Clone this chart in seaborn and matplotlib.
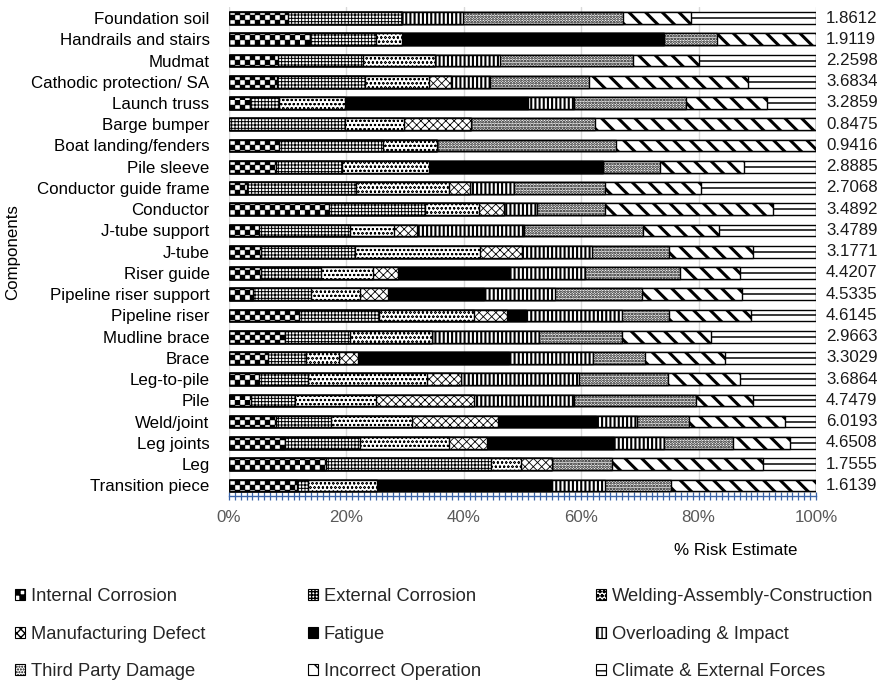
import warnings

import numpy as np
import pandas as pd
import matplotlib
matplotlib.use("Agg")
import matplotlib.pyplot as plt
import matplotlib.hatch as mhatch
from matplotlib.path import Path
from matplotlib.patches import Patch
from matplotlib.ticker import MultipleLocator, PercentFormatter
import seaborn as sns

warnings.filterwarnings("ignore")

# ---------------------------------------------------------------- data
components = [
    "Foundation soil", "Handrails and stairs", "Mudmat", "Cathodic protection/ SA",
    "Launch truss", "Barge bumper", "Boat landing/fenders", "Pile sleeve",
    "Conductor guide frame", "Conductor", "J-tube support", "J-tube", "Riser guide",
    "Pipeline riser support", "Pipeline riser", "Mudline brace", "Brace",
    "Leg-to-pile", "Pile", "Weld/joint", "Leg joints", "Leg", "Transition piece",
]

risk_estimate = [
    1.8612, 1.9119, 2.2598, 3.6834, 3.2859, 0.8475, 0.9416, 2.8885, 2.7068, 3.4892,
    3.4789, 3.1771, 4.4207, 4.5335, 4.6145, 2.9663, 3.3029, 3.6864, 4.7479, 6.0193,
    4.6508, 1.7555, 1.6139,
]

failure_modes = [
    "Internal Corrosion", "External Corrosion", "Welding-Assembly-Construction",
    "Manufacturing Defect", "Fatigue", "Overloading & Impact",
    "Third Party Damage", "Incorrect Operation", "Climate & External Forces",
]

# share of each failure mode (%) per component
internal_corrosion = [10.1, 13.8, 8.4, 8.2, 3.5, 0, 8.6, 8.0, 3.0, 17.0, 5.2, 5.4,
                      5.4, 4.1, 11.9, 9.5, 6.7, 5.2, 3.7, 8.0, 9.5, 16.6, 11.6]
external_corrosion = [19.4, 11.3, 14.4, 15.0, 5.0, 19.8, 17.7, 11.2, 18.7, 16.4, 15.4, 16.1,
                      10.3, 9.9, 13.7, 11.1, 6.5, 8.3, 7.5, 9.4, 12.9, 28.0, 1.9]
welding_assembly = [0, 4.4, 12.3, 10.8, 11.3, 10.1, 9.2, 14.8, 15.8, 9.2, 7.6, 21.2,
                    8.8, 8.4, 16.1, 14.0, 5.6, 20.2, 13.8, 13.7, 15.1, 5.1, 11.7]
manufacturing_defect = [0, 0, 0, 3.9, 0, 11.4, 0, 0, 3.6, 4.3, 3.9, 7.2,
                        4.3, 4.7, 5.7, 0, 3.1, 5.9, 16.7, 14.7, 6.5, 5.3, 0]
fatigue = [0, 44.7, 0, 0, 31.2, 0, 0, 29.7, 0, 0, 0, 0,
           19.1, 16.4, 3.2, 0, 25.8, 0, 0, 16.8, 21.6, 0, 29.9]
overloading_impact = [10.3, 0, 11.0, 6.6, 7.7, 0, 0, 0, 7.4, 5.5, 18.2, 12.0,
                      12.7, 12.0, 16.3, 18.3, 14.4, 20.0, 17.0, 6.9, 8.6, 0, 8.9]
third_party_damage = [27.3, 9.0, 22.7, 16.8, 19.2, 21.1, 30.4, 9.7, 15.5, 11.6, 20.2, 13.1,
                      16.2, 14.8, 8.1, 14.0, 8.7, 15.2, 20.9, 8.8, 11.6, 10.2, 11.3]
incorrect_operation = [11.6, 16.8, 11.3, 27.2, 13.7, 37.6, 34.1, 14.3, 16.5, 28.7, 13.0, 14.3,
                       10.3, 17.1, 14.0, 15.3, 13.7, 12.3, 9.7, 16.5, 9.8, 25.8, 24.7]
climate_forces = [21.3, 0, 19.9, 11.5, 8.4, 0, 0, 12.3, 19.5, 7.3, 16.5, 10.7,
                  12.9, 12.6, 11.0, 17.8, 15.5, 12.9, 10.7, 5.2, 4.4, 9.0, 0]


# ---------------------------------------------------------------- checkerboard hatch ('c')
class CheckerHatch(mhatch.HatchPatternBase):
    """Filled checkerboard squares; every 'c' adds ten cells per hatch unit."""

    def __init__(self, hatch, density):
        self.num_cells = 10 * hatch.count("c")
        self.num_vertices = 5 * (self.num_cells ** 2 // 2) if self.num_cells else 0

    def set_vertices_and_codes(self, vertices, codes):
        n = self.num_cells
        step = 1.0 / n
        square = np.array([[0, 0], [1, 0], [1, 1], [0, 1], [0, 0]], float) * step
        parts = [square + [i * step, j * step]
                 for i in range(n) for j in range(n) if (i + j) % 2 == 0]
        vertices[:] = np.concatenate(parts)
        codes[:] = np.tile([Path.MOVETO, Path.LINETO, Path.LINETO,
                            Path.LINETO, Path.CLOSEPOLY], len(parts))


mhatch._hatch_types.append(CheckerHatch)

# fill colour, hatch pattern and hatch line width for each failure mode
styles = {
    "Internal Corrosion": ("white", "cc", 0.3),
    "External Corrosion": ("white", "+++++", 0.7),
    "Welding-Assembly-Construction": ("white", "oooo", 0.45),
    "Manufacturing Defect": ("white", "xxxx", 0.6),
    "Fatigue": ("black", None, 0.5),
    "Overloading & Impact": ("white", "||||", 1.5),
    "Third Party Damage": ("white", "......", 1.3),
    "Incorrect Operation": ("white", "\\\\", 2.2),
    "Climate & External Forces": ("white", None, 1.0),
}

df = pd.DataFrame({
    "Component": components,
    failure_modes[0]: internal_corrosion,
    failure_modes[1]: external_corrosion,
    failure_modes[2]: welding_assembly,
    failure_modes[3]: manufacturing_defect,
    failure_modes[4]: fatigue,
    failure_modes[5]: overloading_impact,
    failure_modes[6]: third_party_damage,
    failure_modes[7]: incorrect_operation,
    failure_modes[8]: climate_forces,
})
cumulative = df[failure_modes].cumsum(axis=1)
cumulative["Component"] = df["Component"]

# ---------------------------------------------------------------- figure
sns.set_theme(style="white")
plt.rcParams["font.family"] = ["Liberation Sans", "DejaVu Sans"]
plt.rcParams["hatch.color"] = "black"
FS = 12.2
FS_LEG = 13.2

fig = plt.figure(figsize=(8.82, 6.85), dpi=100)
ax = fig.add_axes([0.2596, 0.2759, 0.6655, 0.7133])

# stacked bars: draw cumulative totals from the last mode back to the first
for mode in reversed(failure_modes):
    face, hatch, hlw = styles[mode]
    n_before = len(ax.patches)
    with plt.rc_context({"hatch.linewidth": hlw}):
        sns.barplot(data=cumulative, x=mode, y="Component", order=components,
                    orient="y", color=face, saturation=1, edgecolor="black",
                    linewidth=1.0, hatch=hatch, width=0.55, errorbar=None, ax=ax)
    for p in ax.patches[n_before:]:
        p.set_facecolor(face)
        if hasattr(p, "set_hatch_linewidth"):
            p.set_hatch_linewidth(hlw)

# climate segments carry a single centre line
climate_start = cumulative[failure_modes[7]].to_numpy()
rows = np.arange(len(components))
has_climate = np.asarray(climate_forces) > 0
ax.hlines(rows[has_climate], climate_start[has_climate], 100,
          color="black", linewidth=1.1, zorder=5)

# total risk estimate to the right of each bar
for i, val in enumerate(risk_estimate):
    ax.text(101.7, i, f"{val:.4f}", ha="left", va="center", fontsize=FS,
            color="#1a1a1a", clip_on=False)

ax.set_xlim(0, 100)
ax.set_ylim(len(components) - 0.5, -0.5)
ax.xaxis.set_major_locator(MultipleLocator(20))
ax.xaxis.set_minor_locator(MultipleLocator(1))
ax.xaxis.set_major_formatter(PercentFormatter(decimals=0))
ax.tick_params(axis="x", which="both", bottom=True, direction="inout", length=6,
               width=0.9, color="#3a64a8", labelsize=FS, labelcolor="#595959", pad=7)
ax.tick_params(axis="y", left=False, length=0, labelsize=FS, labelcolor="black", pad=14)
ax.grid(axis="x", color="#d9d9d9", linewidth=1.0)
ax.grid(axis="y", visible=False)
ax.set_axisbelow(True)
for side in ("top", "right", "left"):
    ax.spines[side].set_visible(False)
ax.spines["bottom"].set_color("#3a64a8")
ax.spines["bottom"].set_linewidth(1.0)

ax.set_ylabel("Components", fontsize=FS, color="black")
ax.yaxis.set_label_coords(-0.355, 0.5)
ax.set_xlabel("% Risk Estimate", fontsize=FS, color="black")
ax.xaxis.set_label_coords(0.864, -0.097)

# legend laid out in three columns, filled row by row
handles = {}
for mode in failure_modes:
    face, hatch, hlw = styles[mode]
    if mode == failure_modes[8]:
        hatch = "--"
    h = Patch(facecolor=face, edgecolor="black", hatch=hatch, linewidth=0.8, label=mode)
    if hasattr(h, "set_hatch_linewidth"):
        h.set_hatch_linewidth(min(hlw, 1.0))
    handles[mode] = h

col_x = [15, 308, 596]
for c, x in enumerate(col_x):
    col_modes = failure_modes[c::3]
    fig.legend(handles=[handles[m] for m in col_modes], labels=col_modes,
               loc="upper left", bbox_to_anchor=(x / 882, 1 - 588 / 685),
               bbox_transform=fig.transFigure, frameon=False, fontsize=FS_LEG,
               handlelength=0.55, handleheight=0.55, handletextpad=0.3,
               labelspacing=1.12, borderpad=0, borderaxespad=0)

fig.savefig("out.png", dpi=100)
